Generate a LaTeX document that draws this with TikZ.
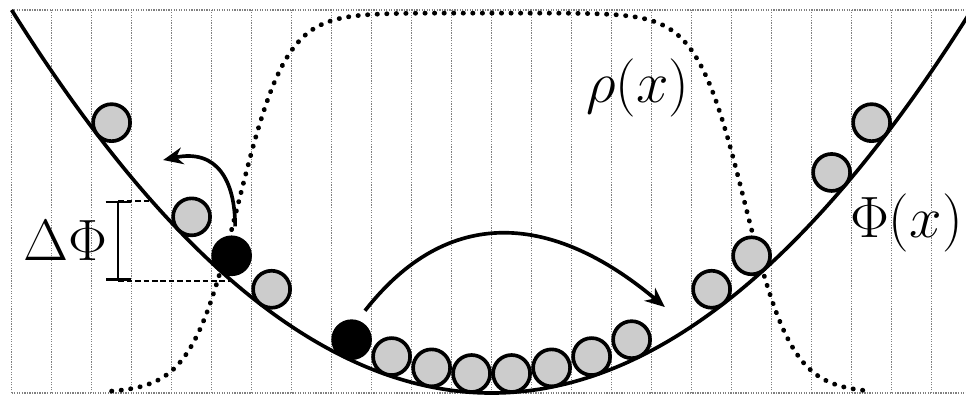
\documentclass[tikz,border=0pt]{standalone}
\usetikzlibrary{arrows.meta, positioning}
\tikzset{
  ball/.style={circle, draw, line width=1.3pt, fill=gray!40, minimum size=0.4625cm, inner sep=0pt},
  hotball/.style={ball, fill=black},
  hoparr/.style={-{Stealth[length=7pt, width=6pt]}, line width=1.3pt},
  gridline/.style={gray, line width=0.45pt, dash pattern=on 0.45pt off 0.45pt},
  densityline/.style={line width=1.7pt, line cap=round, dash pattern=on 0.1pt off 3.3pt},
  gapline/.style={line width=0.8pt, dash pattern=on 2pt off 1pt},
  lbl/.style={font=\huge, inner sep=0pt},
}
\begin{document}
\begin{tikzpicture}[x=0.5cm, y=0.5cm,
  declare function={phi(\x)=0.0665*\x*\x;
    rho(\x)=9.5/(1+exp(max(-8,min(8,(abs(\x)-6.33)/0.6))));
    bally(\x)=phi(\x)+0.47*sqrt(1+(0.133*\x)^2);}]
  \useasboundingbox (-12.29,-0.025) rectangle (11.86,9.825);
  \clip (-12.29,-0.025) rectangle (11.86,9.825);
  % background grid
  \draw[gridline] (-12,0) -- (12,0) (-12,9.575) -- (12,9.575);
  \foreach \gx in {-12,...,12}
    \draw[gridline] (\gx,0) -- (\gx,9.575);
  % density and potential
  \draw[densityline] plot[domain=-9.5:9.5, samples=191, smooth] (\x,{rho(\x)});
  \draw[line width=1.3pt] plot[domain=-12:12, samples=121, smooth] (\x,{phi(\x)});
  % barrier height
  \coordinate (btop) at (-9.335,{phi(-8.5)});
  \coordinate (bbot) at (-9.335,{phi(-6.5)});
  \coordinate (ptop) at (-8.5,{phi(-8.5)});
  \coordinate (pbot) at (-6.5,{phi(-6.5)});
  \draw[gapline] (btop) -- (ptop) (bbot) -- (pbot);
  \draw[line width=0.9pt, {Bar[width=9pt]}-{Bar[width=9pt]}] (btop) -- (bbot)
    coordinate[midway] (bmid);
  \node[lbl, left=3.5pt of bmid] (dphi) {$\Delta\Phi$};
  % particles
  \foreach \bx [count=\i] in {-9.5,-7.5,-5.5,-2.5,-1.5,-0.5,0.5,1.5,2.5,3.5,5.5,6.5,8.5,9.5}
    \node[ball] (g\i) at (\bx,{bally(\bx)}) {};
  \node[hotball] (bk1) at (-6.5,{bally(-6.5)}) {};
  \node[hotball] (bk2) at (-3.5,{bally(-3.5)}) {};
  % hops
  \coordinate (jump) at (-8.21,5.825);
  \coordinate (land) at (4.33,2.15);
  \draw[hoparr, shorten <=3.3pt] (bk1.80) to[out=90, in=12, looseness=1.35] (jump);
  \draw[hoparr, shorten <=4.3pt] (bk2.73) to[out=52, in=140, looseness=1.22] (land);
  % labels
  \node[lbl] (rholbl) at (3.66,7.625) {$\rho(x)$};
  \node[lbl] (philbl) at (10.37,4.24) {$\Phi(x)$};
\end{tikzpicture}
\end{document}
